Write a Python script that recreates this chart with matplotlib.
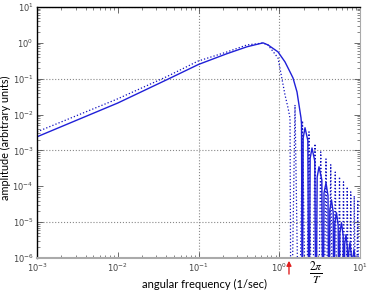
import matplotlib
matplotlib.use('Agg')
import matplotlib.pyplot as plt
from matplotlib.ticker import LogLocator, NullFormatter
from matplotlib.patches import FancyArrowPatch

plt.rcParams['mathtext.fontset'] = 'stix'

# solid curve (angular frequency, amplitude)
solid_w = [1e-3, 1e-2, 0.041, 0.1, 0.22, 0.4, 0.63, 0.7257, 0.965, 1.178, 1.359, 1.48,
           1.659, 1.756, 1.859, 1.886, 1.929,
           1.977, 2.084, 2.259, 2.335,
           2.414, 2.544, 2.758, 2.851,
           2.948, 3.108, 3.369, 3.483,
           3.584, 3.793, 4.016, 4.132,
           4.232, 4.437, 4.653, 4.764,
           4.879, 5.117, 5.366, 5.495,
           5.627, 5.901, 6.188, 6.337,
           6.459, 6.708, 6.968, 7.102,
           7.239, 7.519, 7.810, 7.960,
           8.114, 8.427, 8.754, 8.923,
           9.446, 10.0]
solid_amp = [2.4e-3, 2.1e-2, 0.095, 0.25, 0.49, 0.78, 1.0, 0.875, 0.56, 0.294, 0.155, 0.105,
             0.0428, 0.0186, 0.0081, 5.5e-3, 1e-9,
             2.2e-3, 4.3e-3, 1.9e-3, 1e-9,
             6e-4, 1.17e-3, 5e-4, 1e-9,
             1.8e-4, 3.5e-4, 1.5e-4, 1e-9,
             6.5e-5, 1.26e-4, 5.5e-5, 1e-9,
             2.2e-5, 4.2e-5, 1.9e-5, 1e-9,
             9.5e-6, 1.83e-5, 8e-6, 1e-9,
             5e-6, 9.6e-6, 4.2e-6, 1e-9,
             2.4e-6, 4.5e-6, 2e-6, 1e-9,
             1.4e-6, 2.7e-6, 1.2e-6, 1e-9,
             9e-7, 1.7e-6, 8e-7, 1e-9,
             1.15e-6, 1e-9]

# dotted curve
dot_w = [1e-3, 0.0098, 0.0407, 0.0986, 0.2254, 0.3987, 0.6292, 0.7257, 0.965, 1.178, 1.284, 1.359, 1.398,
         1.567, 1.756, 1.941, 2.145, 2.335, 2.544, 2.772, 3.020, 3.265, 3.532, 3.793, 4.073,
         4.343, 4.630, 4.937, 5.265, 5.575, 5.901, 6.247, 6.613, 6.952, 7.308, 7.682, 8.075,
         8.487, 8.923, 9.378, 9.858, 10.36, 10.9]
dot_amp = [3.3e-3, 0.027, 0.115, 0.31, 0.558, 0.875, 0.99, 0.875, 0.379, 0.0354, 0.0154, 8e-3, 1e-9,
           0.0186, 1e-9, 6.7e-3, 1e-9, 3.3e-3, 1e-9, 1.53e-3, 1e-9, 9.1e-4, 1e-9, 5.8e-4, 1e-9,
           4.0e-4, 1e-9, 2.5e-4, 1e-9, 1.84e-4, 1e-9, 1.33e-4, 1e-9, 9.7e-5, 1e-9, 7.0e-5, 1e-9,
           5.4e-5, 1e-9, 4.2e-5, 1e-9, 3.3e-5, 1e-9]

x_grid = [0.1, 1.0]
y_grid = [10.0, 1e-1, 1e-3, 1e-5]
marker_w = 1.32   # 2*pi/T

fig = plt.figure(figsize=(3.69, 2.94), dpi=100)
ax = fig.add_axes([0.1003, 0.1224, 0.8753, 0.8538])

ax.loglog(dot_w, dot_amp, ':', color='#1010c0', lw=0.9)
ax.loglog(solid_w, solid_amp, '-', color='#2020d8', lw=1.0)

for g in x_grid:
    ax.axvline(g, color='#888888', ls=':', lw=0.8, zorder=0)
for g in y_grid:
    ax.axhline(g, color='#888888', ls=':', lw=0.8, zorder=0)

ax.set_xlim(1e-3, 10)
ax.set_ylim(1e-6, 10)
ax.xaxis.set_major_locator(LogLocator(base=10, numticks=10))
ax.yaxis.set_major_locator(LogLocator(base=10, numticks=10))
ax.xaxis.set_minor_locator(LogLocator(base=10, subs=range(2, 10), numticks=20))
ax.yaxis.set_minor_locator(LogLocator(base=10, subs=range(2, 10), numticks=20))
ax.xaxis.set_minor_formatter(NullFormatter())
ax.yaxis.set_minor_formatter(NullFormatter())
ax.tick_params(which='both', direction='in', top=True, right=True, labelsize=6,
               labelcolor='#444444', color='#555555')
ax.tick_params(which='major', length=4, width=0.6, pad=2.5)
ax.tick_params(which='minor', length=2, width=0.5)
for s in ['left', 'top']:
    ax.spines[s].set_color('black')
    ax.spines[s].set_linewidth(1.0)
ax.spines['bottom'].set_color('#aaaaaa')
ax.spines['bottom'].set_linewidth(1.5)
ax.spines['right'].set_color('#aaaaaa')

ax.set_xlabel('angular frequency (1/sec)', family='Lato', fontsize=8)
ax.set_ylabel('amplitude (arbitrary units)', family='Lato', fontsize=7.8)
ax.xaxis.set_label_coords(0.52, -0.082)
ax.yaxis.set_label_coords(-0.08, 0.478)

# red arrow marking 2*pi/T
arr = FancyArrowPatch((marker_w, -0.075), (marker_w, 0.0), transform=ax.get_xaxis_transform(),
                      arrowstyle='-|>', color='#e02020', lw=1.0, mutation_scale=7,
                      clip_on=False)
ax.add_patch(arr)
ax.text(2.85, -0.062, r'$\frac{2\pi}{T}$', transform=ax.get_xaxis_transform(),
        fontsize=12, ha='center', va='center')

fig.savefig('out.png', dpi=100)
